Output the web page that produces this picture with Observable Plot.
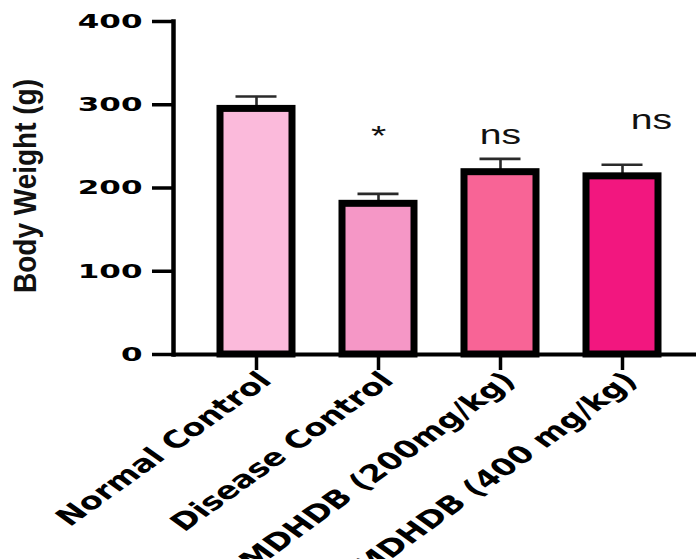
<!DOCTYPE html>
<html>
<head>
<meta charset="utf-8">
<script src="https://cdn.jsdelivr.net/npm/d3@7"></script>
<script src="https://cdn.jsdelivr.net/npm/@observablehq/plot@0.6"></script>
<style>
  html, body { margin: 0; padding: 0; background: #fff; }
  #chart { width: 696px; height: 559px; overflow: hidden; }
</style>
</head>
<body>
<div id="chart"></div>
<script>
// ---- data ----
const groups = ["Normal Control", "Disease Control", "MDHDB (200mg/kg)", "MDHDB (400 mg/kg)"];
const means = [295, 181, 219, 214];
const errTops = [310, 193, 235, 228];
const colors = ["#fbbadb", "#f597c6", "#f86496", "#f2177f"];
const yTicks = [0, 100, 200, 300, 400];
const yTitle = "Body Weight (g)";
const annotGroups = ["Disease Control", "MDHDB (200mg/kg)", "MDHDB (400 mg/kg)"];
const annotTexts = ["*", "ns", "ns"];
const annotY = [252, 253, 271];

const data = groups.map((g, i) => ({group: g, mean: means[i], err: errTops[i]}));
const annots = annotGroups.map((g, i) => ({group: g, text: annotTexts[i], y: annotY[i]}));
const lastGroup = groups[groups.length - 1];

const svg = Plot.plot({
  width: 696,
  height: 559,
  marginLeft: 173,
  marginRight: -10,
  marginTop: 21,
  marginBottom: 205,
  style: {background: "#fff", overflow: "visible"},
  x: {domain: groups, paddingInner: 0.406, paddingOuter: 0.37, axis: null},
  y: {domain: [0, 400], axis: null},
  color: {domain: groups, range: colors},
  marks: [
    // error bars
    Plot.ruleX(data, {x: "group", y1: "mean", y2: "err", stroke: "#2a2a2a", strokeWidth: 2.6}),
    Plot.tickY(data, {x: "group", y: "err", stroke: "#2a2a2a", strokeWidth: 2.6, insetLeft: 15.5, insetRight: 15.5}),
    // bars
    Plot.barY(data, {x: "group", y: "mean", fill: "group", stroke: "#000", strokeWidth: 7}),
    // axes
    Plot.axisY({ticks: yTicks, tickSize: 21, tickPadding: 10, stroke: "#000", strokeWidth: 3.5,
      fontSize: 20, fontWeight: "bold", fontFamily: "DejaVu Sans", fill: "#000", label: null}),
    Plot.frame({anchor: "left", stroke: "#000", strokeWidth: 4.5}),
    Plot.ruleY([0], {stroke: "#000", strokeWidth: 4}),
    Plot.ruleX(groups, {x: d => d, y1: 0, y2: 0, insetBottom: -16, stroke: "#000", strokeWidth: 3.5}),
    // x labels
    Plot.text(groups, {x: d => d, frameAnchor: "bottom", text: d => d, rotate: -45, textAnchor: "end",
      lineAnchor: "middle", dx: 9, dy: 22, fontSize: 24, fontWeight: "bold", fontFamily: "DejaVu Sans",
      fill: "#000"}),
    // y title
    Plot.text([yTitle], {frameAnchor: "left", text: d => d, rotate: -90, dx: -148, dy: -2, fontSize: 28,
      fontWeight: "bold", fontFamily: "Liberation Sans", fill: "#111", textAnchor: "middle", lineAnchor: "middle"}),
    // significance marks
    Plot.text(annots.filter(d => d.group !== lastGroup), {x: "group", y: "y", text: "text", lineAnchor: "bottom",
      fontSize: 28, fontFamily: "Liberation Sans", fill: "#111"}),
    Plot.text(annots.filter(d => d.group === lastGroup), {x: "group", y: "y", text: "text", lineAnchor: "bottom",
      dx: 29, fontSize: 28, fontFamily: "Liberation Sans", fill: "#111"})
  ]
});

function stretchText(t, sx) {
  let tr = t.getAttribute("transform") || "";
  const x = t.getAttribute("x");
  if (x !== null && !/em$/.test(x)) {
    tr = `translate(${x},0) ` + tr;
    t.removeAttribute("x");
  }
  if (tr.includes("rotate(")) tr = tr.replace("rotate(", `scale(${sx},1) rotate(`);
  else tr = tr + ` scale(${sx},1)`;
  t.setAttribute("transform", tr.trim());
}
const yTickStrings = yTicks.map(String);
svg.querySelectorAll("text").forEach(t => {
  const s = t.textContent.trim();
  if (groups.includes(s)) stretchText(t, 1.4);
  else if (annotTexts.includes(s)) stretchText(t, 1.4);
  else if (yTickStrings.includes(s)) stretchText(t, 1.55);
  else if (s === yTitle) stretchText(t, 1.15);
});

document.getElementById("chart").appendChild(svg);
</script>
</body>
</html>
